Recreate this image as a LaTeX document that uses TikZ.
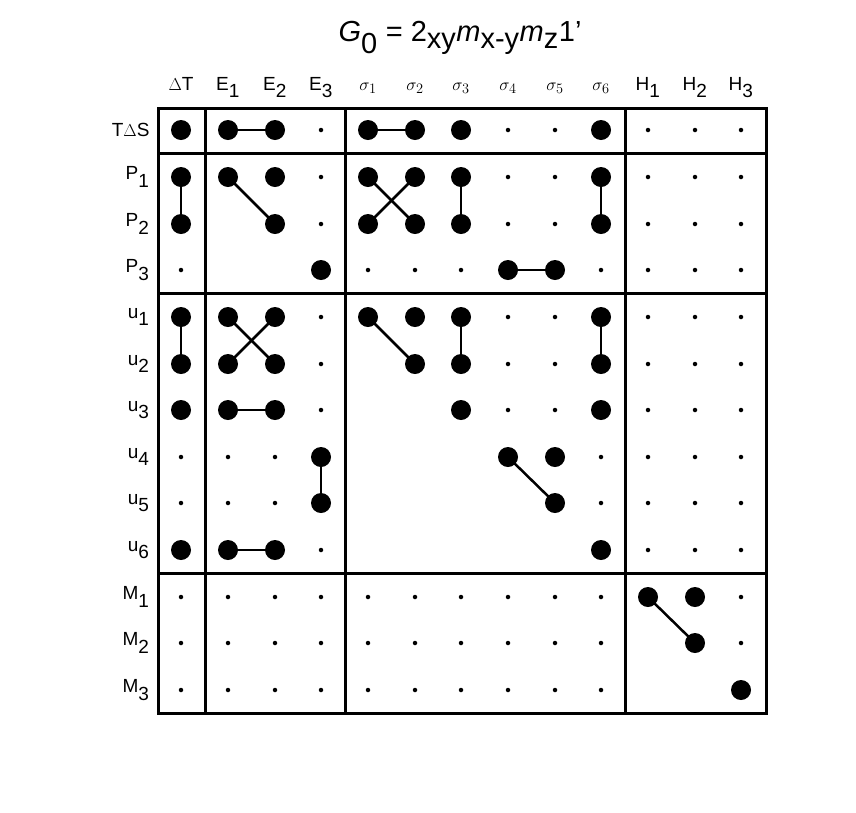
\documentclass[tikz,border=0pt]{standalone}
\usepackage{fontspec}
\setmainfont{Liberation Sans}
\usetikzlibrary{calc}
\newcommand{\sbx}[1]{$_{\hbox{#1}}$}
\begin{document}
\begin{tikzpicture}[x=1pt,y=-1pt,
  big/.style={circle,fill=black,inner sep=0pt,minimum size=20pt},
  sm/.style={circle,fill=black,inner sep=0pt,minimum size=4.5pt},
  conn/.style={line width=2.5pt},
  frame/.style={line width=3pt},
  lab/.style={font=\fontsize{19}{22}\selectfont}]
\useasboundingbox (0,0) rectangle (856,812);
% cell coordinates
\foreach \c [count=\i from 0] in {181,228,275,321,368,415,461,508,555,601,648,695,741}{
  \foreach \r [count=\j from 0] in {130,177,224,270,317,364,410,457,503,550,597,643,690}{
    \coordinate (c\j-\i) at (\c,\r);}}
% frame
\draw[frame] (158,108) rectangle (766,713);
\foreach \x in {205,345,625} \draw[frame] (\x,108) -- (\x,713);
\foreach \y in {153,293,573} \draw[frame] (158,\y) -- (766,\y);
% title
\node[font=\fontsize{29}{34}\selectfont] (title) at (460,38) {\textit{G}\sbx{0} = 2\sbx{xy}\textit{m}\sbx{x-y}\textit{m}\sbx{z}1'};
% column headers
\foreach \t [count=\i from 0] in {$\Delta$T,E\sbx{1},E\sbx{2},E\sbx{3},$\sigma_1$,$\sigma_2$,$\sigma_3$,$\sigma_4$,$\sigma_5$,$\sigma_6$,H\sbx{1},H\sbx{2},H\sbx{3}}
  \node[lab,anchor=base] (h\i) at ($(c0-\i)+(0,-40)$) {\t};
% row headers
\foreach \t [count=\j from 0] in {T$\Delta$S,P\sbx{1},P\sbx{2},P\sbx{3},u\sbx{1},u\sbx{2},u\sbx{3},u\sbx{4},u\sbx{5},u\sbx{6},M\sbx{1},M\sbx{2},M\sbx{3}}
  \node[lab,anchor=east] (r\j) at ($(c\j-0)+(-28,0)$) {\t};
% connectors
\foreach \a/\b in {0-1/0-2,0-4/0-5,1-0/2-0,1-1/2-2,1-4/2-5,1-5/2-4,1-6/2-6,1-9/2-9,3-7/3-8,
  4-0/5-0,4-1/5-2,4-2/5-1,4-4/5-5,4-6/5-6,4-9/5-9,6-1/6-2,7-3/8-3,7-7/8-8,9-1/9-2,10-10/11-11}
  \draw[conn] (c\a) -- (c\b);
% big dots
\foreach \p in {0-0,0-1,0-2,0-4,0-5,0-6,0-9,
  1-0,1-1,1-2,1-4,1-5,1-6,1-9,
  2-0,2-2,2-4,2-5,2-6,2-9,
  3-3,3-7,3-8,
  4-0,4-1,4-2,4-4,4-5,4-6,4-9,
  5-0,5-1,5-2,5-5,5-6,5-9,
  6-0,6-1,6-2,6-6,6-9,
  7-3,7-7,7-8,
  8-3,8-8,
  9-0,9-1,9-2,9-9,
  10-10,10-11,11-11,12-12}
  \node[big] at (c\p) {};
% small dots
\foreach \p in {0-3,0-7,0-8,0-10,0-11,0-12,
  1-3,1-7,1-8,1-10,1-11,1-12,
  2-3,2-7,2-8,2-10,2-11,2-12,
  3-0,3-4,3-5,3-6,3-9,3-10,3-11,3-12,
  4-3,4-7,4-8,4-10,4-11,4-12,
  5-3,5-7,5-8,5-10,5-11,5-12,
  6-3,6-7,6-8,6-10,6-11,6-12,
  7-0,7-1,7-2,7-9,7-10,7-11,7-12,
  8-0,8-1,8-2,8-9,8-10,8-11,8-12,
  9-3,9-10,9-11,9-12,
  10-0,10-1,10-2,10-3,10-4,10-5,10-6,10-7,10-8,10-9,10-12,
  11-0,11-1,11-2,11-3,11-4,11-5,11-6,11-7,11-8,11-9,11-12,
  12-0,12-1,12-2,12-3,12-4,12-5,12-6,12-7,12-8,12-9}
  \node[sm] at (c\p) {};
\end{tikzpicture}
\end{document}
